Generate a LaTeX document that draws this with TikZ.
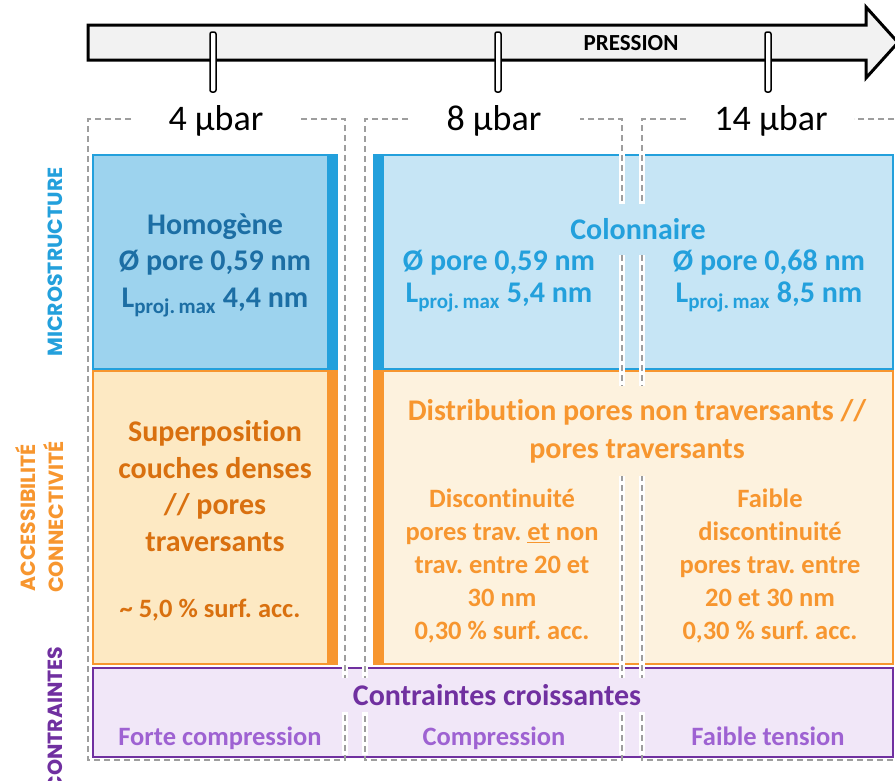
\documentclass[tikz,border=0pt]{standalone}
\usepackage{fontspec}
\setmainfont{Carlito}[Ligatures=NoCommon]
\newfontfamily\sidefont{Poppins}
\usepackage{tikz}

\definecolor{bleu}{HTML}{23A0DC}
\definecolor{bleuA}{HTML}{9DD3EE}
\definecolor{bleuB}{HTML}{C6E5F5}
\definecolor{bleuF}{HTML}{1C6EA4}
\definecolor{orangeC}{HTML}{F7962F}
\definecolor{orangeA}{HTML}{FDE9C3}
\definecolor{orangeB}{HTML}{FDF2DE}
\definecolor{orangeF}{HTML}{D9700F}
\definecolor{violetC}{HTML}{7030A0}
\definecolor{violetA}{HTML}{F1E7F8}
\definecolor{violetD}{HTML}{9E62D2}
\definecolor{gris}{HTML}{9E9E9E}
\definecolor{grisclair}{HTML}{F2F2F2}

\newcommand{\Lproj}{L\textsubscript{proj.\,max}}
\newcommand{\gros}[1]{\fontsize{30}{#1}\selectfont\bfseries}
\newcommand{\moyen}{\fontsize{26.5}{33}\selectfont\bfseries}
\newcommand{\cote}{\sidefont\bfseries\fontsize{20.5}{20.5}\selectfont}
\frenchspacing

\begin{document}
\begin{tikzpicture}[x=1pt,y=-1pt,
    colonne/.style={draw=gris,line width=2pt,dash pattern=on 6pt off 4pt},
    halo/.style={draw=white,line width=6pt},
    boite/.style={line width=2.5pt},
    txt/.style={align=center,inner sep=0pt}]
\useasboundingbox (0,0) rectangle (895,780);

\draw[line width=3pt,fill=grisclair,line join=miter](88,25)--(866,25)--(866,7)--(898,42.5)--(866,78)--(866,60)--(88,60)--cycle; %fleche
\node[font=\fontsize{23}{23}\selectfont\bfseries] (pression) at (631,43) {PRESSION};
\foreach \x in {213,498,768}
    \draw[line width=1.5pt,fill=white,rounded corners=2pt](\x-3,32) rectangle (\x+3,92); %graduations

\node[font=\fontsize{36}{36}\selectfont] (p4) at (216,121) {4 µbar};
\node[font=\fontsize{36}{36}\selectfont] (p8) at (494,121) {8 µbar};
\node[font=\fontsize{36}{36}\selectfont] (p14) at (771,121) {14 µbar};

%cases
\draw[boite,draw=bleu,fill=bleuA](93,155) rectangle (337,369);
\fill[bleu](327,155) rectangle (337,369);
\draw[boite,draw=bleu,fill=bleuB](374,155) rectangle (893,369);
\fill[bleu](374,155) rectangle (384,369);
\draw[boite,draw=orangeC,fill=orangeA](93,371) rectangle (337,664);
\fill[orangeC](327,371) rectangle (337,664);
\draw[boite,draw=orangeC,fill=orangeB](374,371) rectangle (893,664);
\fill[orangeC](374,371) rectangle (384,664);
\draw[boite,draw=violetC,fill=violetA](93,668) rectangle (893,757);

%colonnes en pointilles
\foreach \x in {345,365,622,642} \draw[halo](\x,152)--(\x,755);
\foreach \a/\b/\c/\d in {88/131/301/345,365/408/580/622,642/686/854/910}
    \draw[colonne](\b,119)--(\a,119)--(\a,760)--(\d,760)--(\d,119)--(\c,119);

\node[txt,text=bleuF,font=\gros{36.5}] (homogene) at (215,265) {Homogène\\Ø pore 0,59 nm\\\Lproj{} 4,4 nm};
\node[txt,text=bleu,font=\gros{32},fill=bleuB,minimum height=51pt,minimum width=150pt] (colonnaire) at (638,229.5) {Colonnaire};
\node[txt,text=bleu,font=\gros{32}] (pore8) at (499,281) {Ø pore 0,59 nm\\\Lproj{} 5,4 nm};
\node[txt,text=bleu,font=\gros{32}] (pore14) at (769,281) {Ø pore 0,68 nm\\\Lproj{} 8,5 nm};

\node[txt,text=orangeF,font=\gros{36.5}] (superpo) at (215,486) {Superposition\\couches denses\\// pores\\traversants};
\node[txt,text=orangeF,font=\moyen] (acc4) at (210,610) {\textasciitilde{} 5,0 \% surf. acc.};
\node[txt,text=orangeC,font=\gros{38},fill=orangeB,minimum height=90pt] (distrib) at (637,431) {Distribution pores non traversants //\\pores traversants};
\node[txt,text=orangeC,font=\moyen] (discont8) at (502,566) {Discontinuité\\pores trav. \underline{et} non\\trav. entre 20 et\\30 nm\\0,30 \% surf. acc.};
\node[txt,text=orangeC,font=\moyen] (discont14) at (770,566) {Faible\\discontinuité\\pores trav. entre\\20 et 30 nm\\0,30 \% surf. acc.};

\node[txt,text=violetC,font=\gros{30},fill=violetA,minimum height=34pt,minimum width=310pt] (croiss) at (497,695) {Contraintes croissantes};
\node[txt,text=violetD,font=\moyen,anchor=base] (forte) at (220,745) {Forte compression};
\node[txt,text=violetD,font=\moyen,anchor=base] (compr) at (494,745) {Compression};
\node[txt,text=violetD,font=\moyen,anchor=base] (tension) at (768,745) {Faible tension};

%titres des lignes
\node[rotate=90,text=bleu,font=\cote] (micro) at (55,262) {MICROSTRUCTURE};
\node[rotate=90,text=orangeC,font=\cote] (access) at (26,518) {ACCESSIBILITÉ};
\node[rotate=90,text=orangeC,font=\cote] (connect) at (54,517) {CONNECTIVITÉ};
\node[rotate=90,text=violetC,font=\cote,anchor=east] (contr) at (55,643) {CONTRAINTES};
\end{tikzpicture}
\end{document}
